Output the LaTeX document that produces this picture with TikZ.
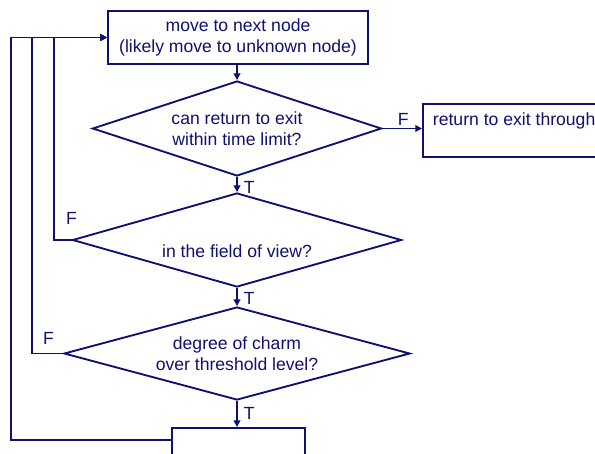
\documentclass[tikz,border=0pt]{standalone}
\usepackage{fontspec}
\setmainfont{Liberation Sans}
\usepackage{tikz}
\usetikzlibrary{arrows.meta, shapes.geometric, positioning, calc}
\definecolor{flowblue}{RGB}{16,16,112}

\begin{document}
\begin{tikzpicture}[x=0.75pt, y=-0.75pt, color=flowblue, line width=1.4pt,
  font=\fontsize{13.2pt}{15.75pt}\selectfont,
  box/.style={draw, rectangle, align=center, inner sep=0pt},
  test/.style={draw, diamond, aspect=3, align=center, inner sep=0pt},
  flow/.style={-{Triangle[length=5pt,width=5pt]}},
  tf/.style={inner sep=0pt}]
  \useasboundingbox (0,0) rectangle (595,453);
  \clip (0,0) rectangle (595,453);

  \node[box, minimum width=195pt, minimum height=39.75pt] (move) at (238,37.5)
    {move to next node\\(likely move to unknown node)};
  \node[test, minimum width=216.75pt, minimum height=71.25pt] (limit) at (237,128.5)
    {can return to exit\\within time limit?};
  \node[test, minimum width=246.75pt, minimum height=70.5pt,
    label={[name=viewtext, yshift=-8.25pt]center:in the field of view?}] (view) at (237,240) {};
  \node[test, minimum width=259.5pt, minimum height=69.75pt] (charm) at (237,353.5)
    {degree of charm\\over threshold level?};
  \node[box, minimum width=150pt, minimum height=39.75pt, anchor=north west] (exit) at (422,103) {};
  \node[tf, anchor=base west] (exittext) at ($(exit.north west)+(10,22)$) {return to exit through};
  \node[box, minimum width=99.75pt, minimum height=39.75pt, anchor=north] (goal) at (238.5,427) {};

  \draw[flow] (limit.north |- move.south) -- (limit.north);
  \draw[flow] (limit.south) -- (view.north);
  \draw[flow] (view.south) -- (charm.north);
  \draw[flow] (charm.south) -- (charm.south |- goal.north);
  \draw[flow] (limit.east) -- (limit.east -| exit.west);

  \draw[flow] (view.west) -- ++(-17.5,0) |- (move.west);
  \draw[flow] (charm.west) -- ++(-31,0) |- (move.west);
  \coordinate (goalout) at ($(goal.north west)+(0,13)$);
  \draw[flow] (goalout) -- ++(-160,0) |- (move.west);

  \node[tf, anchor=south west] (limitF) at ($(limit.east)+(14.5,-2.5)$) {F};
  \node[tf, anchor=south west] (viewF) at ($(view.west)+(-6.5,-15)$) {F};
  \node[tf, anchor=south west] (charmF) at ($(charm.west)+(-21,-8.5)$) {F};
  \node[tf, anchor=north west] (limitT) at ($(limit.south)+(6,4)$) {T};
  \node[tf, anchor=north west] (viewT) at ($(view.south)+(6,4)$) {T};
  \node[tf, anchor=north west] (charmT) at ($(charm.south)+(6,6)$) {T};
\end{tikzpicture}
\end{document}
